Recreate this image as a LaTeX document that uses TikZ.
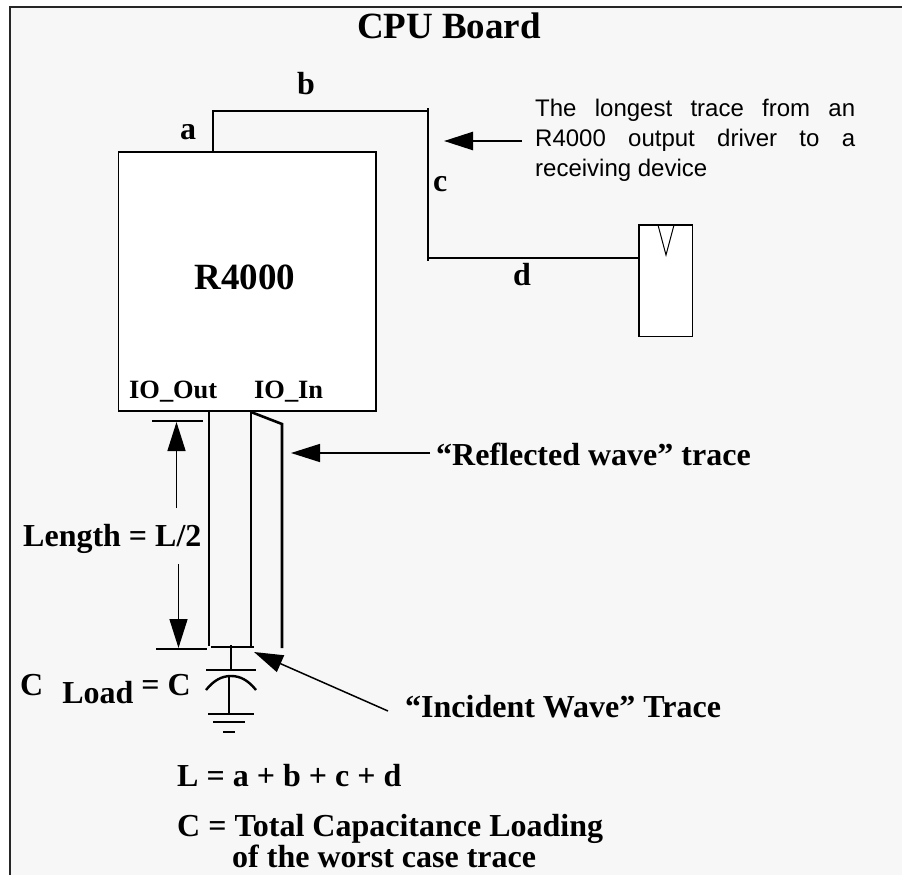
\documentclass[tikz,border=0pt]{standalone}
\usepackage{fontspec}
\setmainfont{Liberation Serif}
\newfontfamily\hv{Liberation Sans}
\usetikzlibrary{arrows.meta}
\tikzset{
  wire/.style={line width=2.6pt,black},
  bar/.style={line width=2.4pt,black},
  pointer/.style={line width=1.5pt,black,-{Triangle[length=29pt,width=18pt]}},
  lbl/.style={inner sep=0pt,anchor=base west,font=\bfseries\fontsize{32}{36}\selectfont},
  sm/.style={inner sep=0pt,anchor=base west,font=\bfseries\fontsize{26.4}{30}\selectfont},
  notetext/.style={inner sep=0pt,anchor=base west,font=\hv\fontsize{24}{30}\selectfont},
  box/.style={draw=black,line width=1.6pt,fill=white,inner sep=0pt,anchor=north west}
}
\begin{document}
\begin{tikzpicture}[x=1pt,y=-1pt]
\useasboundingbox (0,0) rectangle (902,875);
\fill[white] (0,0) rectangle (902,875);
\fill[black!3] (10,7.5) rectangle (902,875);
\draw[line width=2pt,black!85] (10,875) -- (10,7.5) -- (902,7.5);
\node[inner sep=0pt,anchor=base,font=\bfseries\fontsize{37}{40}\selectfont] (title) at (449,39) {CPU Board};
\node[box,minimum width=257.7pt,minimum height=259.3pt] (cpu) at (117.5,150.9) {};
\node[box,line width=1.3pt,minimum width=53.7pt,minimum height=111.7pt] (rcv) at (638.3,224.3) {};
\node[inner sep=0pt,anchor=base,font=\bfseries\fontsize{37}{40}\selectfont] (rname) at (245,289) {R4000};
\node[sm] (ioout) at (129,398) {IO\_Out};
\node[sm] (ioin) at (254,398) {IO\_In};
\node[lbl] (la) at (180,139) {a};
\node[lbl] (lb) at (297,95) {b};
\node[lbl] (lc) at (433,191) {c};
\node[lbl] (ld) at (513,285) {d};
\node[notetext] (n1) at (535,116) {\makebox[320pt][s]{The longest trace from an}};
\node[notetext] (n2) at (535,146) {\makebox[320pt][s]{R4000 output driver to a}};
\node[notetext] (n3) at (535,176) {receiving device};
\node[lbl] (len) at (23,546) {Length = L/2};
\node[lbl] (cload) at (20,695) {C\hspace{19pt}\raisebox{-8pt}{Load} = C};
\node[lbl] (refl) at (436,465) {“Reflected wave” trace};
\node[lbl] (inc) at (405,717) {“Incident Wave” Trace};
\node[lbl] (leq) at (177,786) {L = a + b + c + d};
\node[lbl] (ceq) at (177,836) {C = Total Capacitance Loading};
\node[lbl] (ceq2) at (232,867) {of the worst case trace};
% longest trace
\coordinate (t0) at (213,152); \coordinate (t1) at (213,111);
\coordinate (t2) at (428,111); \coordinate (t3) at (428,258);
\coordinate (t4) at (639,258);
\draw[wire] (t0) -- (t1) -- (t2);
\draw[wire] (428,108) -- (428,261);
\draw[wire] (t3) -- (t4);
% receiver mark
\draw[line width=1pt] (658,225) -- (666,255) -- (674,225);
% pointer arrows
\coordinate (p0) at (522,141); \coordinate (p1) at (444,141);
\draw[pointer,line width=2.5pt] (p0) -- (p1);
\coordinate (r0) at (430,453); \coordinate (r1) at (291,453);
\draw[pointer] (r0) -- (r1);
\coordinate (i0) at (388,711); \coordinate (i1) at (254,652);
\draw[pointer] (i0) -- (i1);
% traces
\draw[wire] (209,410) -- (209,646);
\draw[wire] (251,412) -- (251,647);
\draw[wire] (251,412) -- (282,424) -- (282,648);
% dimension
\draw[bar] (152,421) -- (203,421);
\draw[bar] (156,649) -- (207,649);
\coordinate (d0) at (176.5,508); \coordinate (d1) at (176.5,422);
\coordinate (d2) at (178.5,564); \coordinate (d3) at (178.5,648);
\draw[pointer] (d0) -- (d1);
\draw[pointer] (d2) -- (d3);
% capacitor and ground
\draw[bar] (211,647) -- (254,647);
\draw[bar] (231,645) -- (231,670);
\draw[bar] (206,670) -- (256,670);
\draw[bar] (206,690) .. controls (214,680) and (222,676) .. (231,676) .. controls (240,676) and (248,680) .. (256,690);
\draw[bar] (229,676) -- (229,714);
\draw[bar] (208,714) -- (254,714);
\draw[bar] (213,722) -- (245,722);
\draw[bar] (223,732) -- (235,732);
\end{tikzpicture}
\end{document}
